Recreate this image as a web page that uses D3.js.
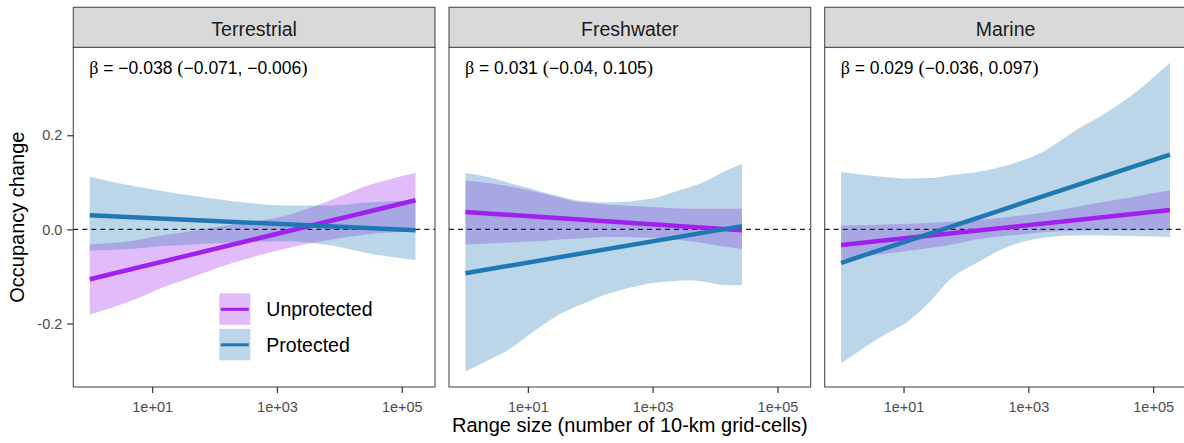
<!DOCTYPE html>
<html>
<head>
<meta charset="utf-8">
<script src="https://cdn.jsdelivr.net/npm/d3@7"></script>
<style>
  body { margin: 0; background: #fff; }
  text { font-family: "Liberation Sans", Arial, sans-serif; }
</style>
</head>
<body>
<div id="chart"></div>
<script>
// facet names and the beta annotation of each facet
var panels = ["Terrestrial", "Freshwater", "Marine"];
var betas = [
  ["\u2212", "0.038", "\u22120.071", "\u22120.006"],
  ["", "0.031", "\u22120.04", "0.105"],
  ["", "0.029", "\u22120.036", "0.097"]
];
var groups = ["Unprotected", "Protected"];
var groupColors = ["#A020F0", "#1F78B4"];

var xTicks = [10, 1000, 100000];
var xTickLabels = ["1e+01", "1e+03", "1e+05"];
var yTicks = [-0.2, 0, 0.2];
var yTickLabels = ["-0.2", "0.0", "0.2"];

// fitted lines: range size at the two ends and occupancy change
var terrLineX = [1, 166000];
var terrUnprotLine = [-0.106, 0.062];
var terrProtLine = [0.030, -0.002];
var freshLineX = [1, 27000];
var freshUnprotLine = [0.037, -0.002];
var freshProtLine = [-0.093, 0.007];
var marLineX = [1, 186000];
var marUnprotLine = [-0.033, 0.041];
var marProtLine = [-0.071, 0.159];

// confidence ribbons
var terrBandX = [1, 5, 17, 32, 200, 1260, 7900, 27000, 166000];
var terrUnprotLo = [-0.181, -0.150, -0.120, -0.108, -0.071, -0.042, -0.021, -0.011, -0.004];
var terrUnprotHi = [-0.032, -0.024, -0.011, -0.006, 0.011, 0.028, 0.064, 0.092, 0.120];
var terrProtLo = [-0.045, -0.041, -0.035, -0.033, -0.028, -0.025, -0.035, -0.050, -0.065];
var terrProtHi = [0.112, 0.092, 0.080, 0.074, 0.060, 0.051, 0.051, 0.057, 0.062];

var freshBandX = [1, 2.5, 4.6, 8.3, 15.5, 29, 54, 98, 182, 339, 617, 1150, 2140, 3980, 7240, 13500, 27000];
var freshUnprotLo = [-0.032, -0.030, -0.028, -0.026, -0.025, -0.022, -0.020, -0.018, -0.016, -0.016, -0.017, -0.018, -0.021, -0.025, -0.030, -0.036, -0.042];
var freshUnprotHi = [0.104, 0.098, 0.092, 0.086, 0.078, 0.069, 0.060, 0.056, 0.053, 0.051, 0.049, 0.047, 0.045, 0.044, 0.044, 0.044, 0.044];
var freshProtLo = [-0.302, -0.276, -0.258, -0.234, -0.208, -0.184, -0.166, -0.152, -0.138, -0.127, -0.119, -0.113, -0.110, -0.108, -0.112, -0.118, -0.118];
var freshProtHi = [0.120, 0.110, 0.100, 0.091, 0.081, 0.072, 0.063, 0.059, 0.057, 0.058, 0.062, 0.068, 0.079, 0.090, 0.103, 0.122, 0.139];

var marBandX = [1, 3.7, 13, 27, 56, 151, 513, 1780, 6030, 15800, 43600, 186000];
var marUnprotLo = [-0.064, -0.054, -0.045, -0.039, -0.033, -0.021, -0.013, -0.006, -0.003, -0.002, -0.002, -0.002];
var marUnprotHi = [0.008, 0.010, 0.012, 0.014, 0.016, 0.020, 0.027, 0.036, 0.048, 0.058, 0.068, 0.083];
var marProtLo = [-0.285, -0.234, -0.191, -0.152, -0.106, -0.071, -0.035, -0.018, -0.013, -0.013, -0.014, -0.016];
var marProtHi = [0.122, 0.113, 0.108, 0.109, 0.115, 0.122, 0.138, 0.166, 0.212, 0.244, 0.283, 0.354];

// build per-panel tables
function band(xs, lo, hi) { return xs.map(function(x, i) { return {x: x, lo: lo[i], hi: hi[i]}; }); }
function line(xs, ys) { return xs.map(function(x, i) { return {x: x, y: ys[i]}; }); }
var panelData = [
  { bands: [band(terrBandX, terrUnprotLo, terrUnprotHi), band(terrBandX, terrProtLo, terrProtHi)],
    lines: [line(terrLineX, terrUnprotLine), line(terrLineX, terrProtLine)] },
  { bands: [band(freshBandX, freshUnprotLo, freshUnprotHi), band(freshBandX, freshProtLo, freshProtHi)],
    lines: [line(freshLineX, freshUnprotLine), line(freshLineX, freshProtLine)] },
  { bands: [band(marBandX, marUnprotLo, marUnprotHi), band(marBandX, marProtLo, marProtHi)],
    lines: [line(marLineX, marUnprotLine), line(marLineX, marProtLine)] }
];

var svgWidth = 1184;
var svgHeight = 443;
var margin = { top: 7.3, left: 73.3 };
var panelW = 361.7;
var panelGap = 14;
var stripH = 40;
var plotTop = margin.top + stripH;
var plotH = 339.7;

var svg = d3.select("#chart")
  .append("svg")
  .attr("width", svgWidth)
  .attr("height", svgHeight);

// shared scales, ggplot style 5% expansion
var allX = [], allY = [];
panelData.forEach(function(p) {
  p.bands.forEach(function(b) { b.forEach(function(d) { allX.push(Math.log10(d.x)); allY.push(d.lo, d.hi); }); });
  p.lines.forEach(function(l) { l.forEach(function(d) { allX.push(Math.log10(d.x)); allY.push(d.y); }); });
});
var lx = d3.extent(allX), ly = d3.extent(allY);
var ex = (lx[1] - lx[0]) * 0.05, ey = (ly[1] - ly[0]) * 0.05;

var x = d3.scaleLog()
  .domain([Math.pow(10, lx[0] - ex), Math.pow(10, lx[1] + ex)])
  .range([0, panelW]);
var y = d3.scaleLinear()
  .domain([ly[0] - ey, ly[1] + ey])
  .range([plotH, 0]);

var area = d3.area()
  .x(function(d) { return x(d.x); })
  .y0(function(d) { return y(d.lo); })
  .y1(function(d) { return y(d.hi); })
  .curve(d3.curveMonotoneX);
var path = d3.line()
  .x(function(d) { return x(d.x); })
  .y(function(d) { return y(d.y); });

panels.forEach(function(name, i) {
  var px = margin.left + i * (panelW + panelGap);
  var g = svg.append("g").attr("transform", `translate(${px}, ${plotTop})`);

  // strip
  svg.append("rect")
    .attr("x", px).attr("y", margin.top)
    .attr("width", panelW).attr("height", stripH)
    .attr("fill", "#D9D9D9").attr("stroke", "#4D4D4D").attr("stroke-width", 1.1);
  svg.append("text")
    .attr("x", px + panelW / 2).attr("y", margin.top + 28.5)
    .attr("text-anchor", "middle")
    .attr("font-size", "19.5px").attr("fill", "#1A1A1A")
    .text(name);

  // ribbons then lines
  panelData[i].bands.forEach(function(b, k) {
    g.append("path").datum(b)
      .attr("d", area)
      .attr("fill", groupColors[k]).attr("fill-opacity", 0.3);
  });

  g.append("line")
    .attr("x1", 0).attr("x2", panelW)
    .attr("y1", y(0)).attr("y2", y(0))
    .attr("stroke", "#222").attr("stroke-width", 1.2)
    .attr("stroke-dasharray", "5,4");

  panelData[i].lines.forEach(function(l, k) {
    g.append("path").datum(l)
      .attr("d", path)
      .attr("fill", "none")
      .attr("stroke", groupColors[k]).attr("stroke-width", 4.5);
  });

  // annotation
  var b = betas[i];
  var t = g.append("text")
    .attr("x", x(1) - 0.5).attr("y", 27)
    .attr("font-size", "17.5px").attr("fill", "#000");
  t.append("tspan").attr("font-family", "Liberation Serif, serif").attr("font-size", "18px").text("\u03B2");
  t.append("tspan").text(" = " + b[0] + b[1] + " ");
  t.append("tspan").attr("font-family", "Liberation Serif, serif").attr("font-size", "19px").text("(");
  t.append("tspan").text(b[2] + ", " + b[3]);
  t.append("tspan").attr("font-family", "Liberation Serif, serif").attr("font-size", "19px").text(")");

  // border
  g.append("rect")
    .attr("width", panelW).attr("height", plotH)
    .attr("fill", "none").attr("stroke", "#4D4D4D").attr("stroke-width", 1.1);

  // x axis
  var xa = g.append("g")
    .attr("transform", `translate(0, ${plotH})`)
    .call(d3.axisBottom(x).tickValues(xTicks).tickFormat(function(d, j) { return xTickLabels[j]; }).tickSize(6).tickSizeOuter(0));
  xa.select(".domain").remove();
  xa.selectAll(".tick line").attr("stroke", "#333").attr("stroke-width", 1.2);
  xa.selectAll(".tick text")
    .attr("dy", "0.71em").attr("y", 15)
    .attr("font-family", "Liberation Sans, Arial, sans-serif")
    .attr("font-size", "14.5px").attr("fill", "#4D4D4D");

  if (i === 0) {
    var ya = g.append("g")
      .call(d3.axisLeft(y).tickValues(yTicks).tickFormat(function(d, j) { return yTickLabels[j]; }).tickSize(6).tickSizeOuter(0));
    ya.select(".domain").remove();
    ya.selectAll(".tick line").attr("stroke", "#333").attr("stroke-width", 1.2);
    ya.selectAll(".tick text")
      .attr("x", -11)
      .attr("font-family", "Liberation Sans, Arial, sans-serif")
      .attr("font-size", "14.5px").attr("fill", "#4D4D4D");

    // legend inside first panel
    var leg = g.append("g").attr("transform", "translate(146, 246)");
    groups.forEach(function(gr, k) {
      var ky = k * 35.5;
      leg.append("rect")
        .attr("x", 0).attr("y", ky).attr("width", 31).attr("height", 31.5)
        .attr("fill", groupColors[k]).attr("fill-opacity", 0.3);
      leg.append("line")
        .attr("x1", 1.5).attr("x2", 29.5).attr("y1", ky + 16).attr("y2", ky + 16)
        .attr("stroke", groupColors[k]).attr("stroke-width", 3);
      leg.append("text")
        .attr("x", 47).attr("y", ky + 16).attr("dy", "0.35em")
        .attr("font-size", "19.5px").attr("fill", "#000")
        .text(gr);
    });
  }
});

// axis titles
svg.append("text")
  .attr("x", margin.left + (3 * panelW + 2 * panelGap) / 2).attr("y", 432)
  .attr("text-anchor", "middle")
  .attr("font-size", "20px").attr("fill", "#000")
  .text("Range size (number of 10-km grid-cells)");

svg.append("text")
  .attr("transform", `translate(24, ${plotTop + plotH / 2}) rotate(-90)`)
  .attr("text-anchor", "middle")
  .attr("font-size", "20px").attr("fill", "#000")
  .text("Occupancy change");
</script>
</body>
</html>
